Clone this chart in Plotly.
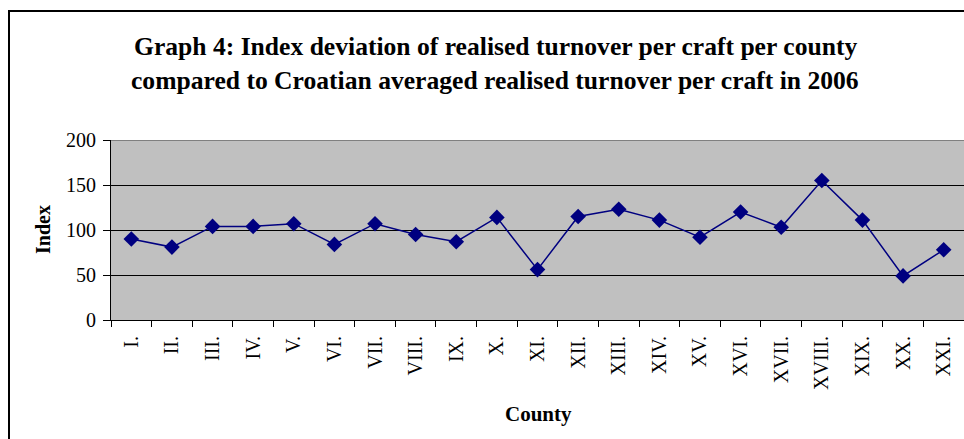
import plotly.graph_objects as go

counties = ["I.", "II.", "III.", "IV.", "V.", "VI.", "VII.", "VIII.", "IX.", "X.", "XI.",
            "XII.", "XIII.", "XIV.", "XV.", "XVI.", "XVII.", "XVIII.", "XIX.", "XX.", "XXI."]
index_values = [90, 81, 104, 104, 107, 84, 107, 95, 87, 114, 56,
                115, 123, 111, 92, 120, 103, 155, 111, 49, 78]
y_ticks = [0, 50, 100, 150, 200]

W, H = 964, 439
L, R, T, B = 111, 0, 140, 119
pw = W - L - R
ph = H - T - B

def px(x):
    return (x - L) / pw

def py(y):
    return (H - B - y) / ph

FONT = "Liberation Serif, Times New Roman, serif"

fig = go.Figure()
fig.add_trace(go.Scatter(
    x=counties, y=index_values, mode="lines+markers",
    line=dict(color="#000080", width=1.5),
    marker=dict(symbol="diamond", size=12, color="#000080"),
    showlegend=False, cliponaxis=False,
))

fig.update_layout(
    width=W, height=H,
    margin=dict(l=L, r=R, t=T, b=B, autoexpand=False),
    paper_bgcolor="white", plot_bgcolor="#C0C0C0",
    font=dict(family=FONT, color="black", size=20),
    xaxis=dict(type="category", range=[-0.5, len(counties) - 0.5], tickangle=-90,
               showline=True, linecolor="black", linewidth=1,
               ticks="outside", ticklen=6, tickcolor="black", tickson="boundaries",
               ticklabelstandoff=7,
               showgrid=False, tickfont=dict(size=20, family=FONT)),
    yaxis=dict(range=[0, 200], tickvals=y_ticks, showline=True, linecolor="black", linewidth=1,
               ticks="outside", ticklen=7, tickcolor="black", showgrid=True, gridcolor="black",
               gridwidth=1, zeroline=False, ticklabelstandoff=3,
               tickfont=dict(size=20, family=FONT)),
)

fig.add_shape(type="line", xref="paper", yref="y", x0=0, x1=1, y0=200, y1=200,
              line=dict(color="#808080", width=2), layer="above")
fig.add_shape(type="rect", xref="paper", yref="paper", x0=px(9), x1=1.2, y0=-1.5, y1=py(11),
              line=dict(color="black", width=2), layer="above")

ann = [
    dict(text="<b>Graph 4: Index deviation of realised turnover per craft per county</b>", x=px(495), y=py(46), size=25.6),
    dict(text="<b>compared to Croatian averaged realised turnover per craft in 2006</b>", x=px(495), y=py(80), size=25.6),
    dict(text="<b>County</b>", x=px(538), y=py(414), size=21),
]
for a in ann:
    fig.add_annotation(text=a["text"], x=a["x"], y=a["y"], xref="paper", yref="paper",
                       showarrow=False, xanchor="center", yanchor="middle",
                       font=dict(family=FONT, size=a["size"], color="black"))
fig.add_annotation(text="<b>Index</b>", x=px(43), y=py(230), xref="paper", yref="paper",
                   showarrow=False, xanchor="center", yanchor="middle", textangle=-90,
                   font=dict(family=FONT, size=20, color="black"))

fig.write_html("out.html")
